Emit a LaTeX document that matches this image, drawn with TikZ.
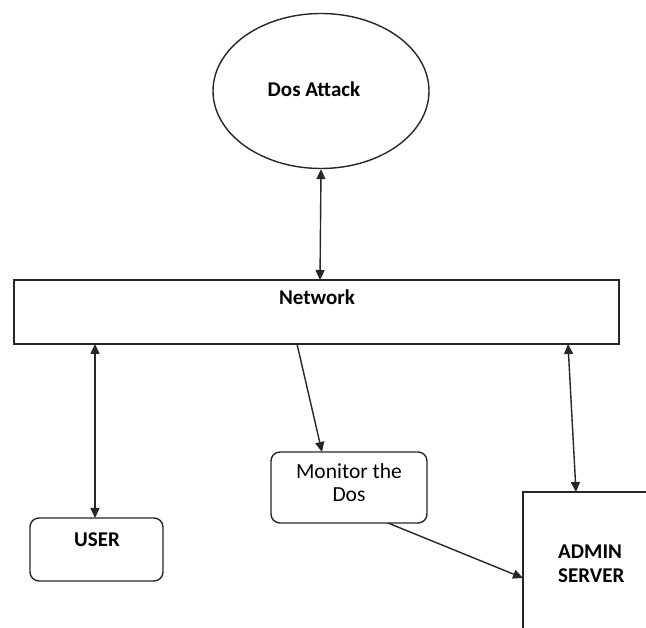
\documentclass[tikz,border=0pt]{standalone}
\usepackage{fontspec}
\setmainfont{Carlito}
\usetikzlibrary{arrows.meta,shapes.geometric}
\begin{document}
\begin{tikzpicture}[x=1pt,y=-1pt,
  line/.style={draw=black!85,line width=1.4pt},
  tip/.tip={Triangle[length=10pt,width=9pt]},
  arr/.style={line,tip-tip},
  onearr/.style={line,-tip},
  rbox/.style={line,rounded corners=9pt,inner sep=0pt},
  lbl/.style={font=\fontsize{21}{24}\selectfont\bfseries,inner sep=0pt,align=center},
  rlbl/.style={font=\fontsize{21.5}{23}\selectfont,inner sep=0pt,align=center}]
\useasboundingbox (0,0) rectangle (646,628);
% Dos attack ellipse
\node[ellipse,line,minimum width=216pt,minimum height=155pt,inner sep=0pt] (dos) at (321,91) {};
\node[lbl] (doslbl) at (314,89) {Dos Attack};
% network
\node[line,rectangle,minimum width=605pt,minimum height=64pt,inner sep=0pt] (net) at (316.5,312) {};
\node[lbl] (netlbl) at (317,297) {Network};
% user
\node[rbox,minimum width=133pt,minimum height=63pt] (user) at (96.5,549.5) {};
\node[lbl] (userlbl) at (97,540) {USER};
% monitor
\node[rbox,minimum width=156pt,minimum height=71pt] (mon) at (349,487.5) {};
\node[rlbl] (monlbl) at (349,483) {Monitor the\\Dos};
% admin server (open box)
\coordinate (adtl) at (523,492);
\coordinate (adtr) at (646,492);
\coordinate (adbl) at (523,628);
\draw[line] (adbl) -- (adtl) -- (adtr);
\node[lbl,align=left,anchor=west] (adlbl) at (558,564) {ADMIN\\SERVER};
% connectors
\coordinate (n1) at (320,280);
\draw[arr] (dos.south) -- (n1);
\coordinate (n2) at (95,344);
\coordinate (u2) at (95,518);
\draw[arr] (n2) -- (u2);
\coordinate (n3) at (297,344);
\coordinate (m3) at (322,452);
\draw[onearr] (n3) -- (m3);
\coordinate (n4) at (568,344);
\coordinate (a4) at (576,492);
\draw[arr] (n4) -- (a4);
\coordinate (m5) at (388,523);
\coordinate (a5) at (523,578);
\draw[onearr] (m5) -- (a5);
\end{tikzpicture}
\end{document}
